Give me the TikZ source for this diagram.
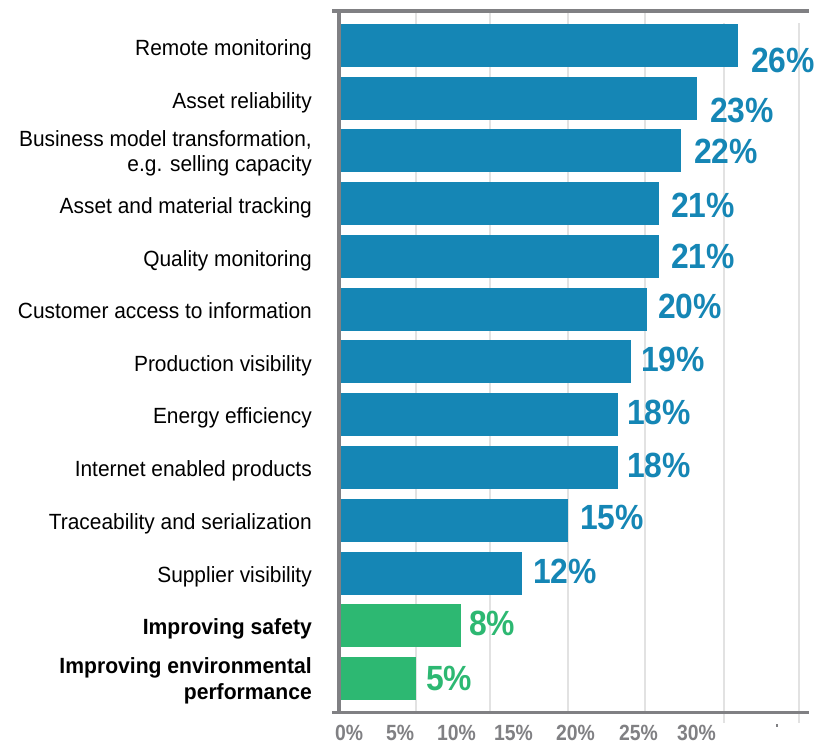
\documentclass[tikz,border=0pt]{standalone}
\usepackage{fontspec}
\newfontfamily\catfont[FakeStretch=0.95]{Liberation Sans}
\newfontfamily\catbold[FakeStretch=0.96]{Liberation Sans Bold}
\newfontfamily\numfont[FakeStretch=0.91]{Liberation Sans Bold}
\newfontfamily\axfont[FakeStretch=0.88]{Liberation Sans Bold}
\definecolor{barblue}{RGB}{21,134,181}
\definecolor{bargreen}{RGB}{45,184,114}
\definecolor{axgray}{RGB}{128,128,131}
\definecolor{gridgray}{RGB}{226,226,226}
\tikzset{
  cat/.style={anchor=base east, inner sep=0pt, font=\catfont\fontsize{22}{25}\selectfont, text=black},
  catb/.style={anchor=base east, inner sep=0pt, font=\catbold\fontsize{22}{25}\selectfont, text=black},
  pct/.style={anchor=base west, inner sep=0pt, font=\numfont\fontsize{35}{38}\selectfont},
  axl/.style={anchor=base west, inner sep=0pt, font=\axfont\fontsize{22}{25}\selectfont, text=axgray},
  grid/.style={draw=gridgray, line width=2pt},
  axis/.style={draw=axgray, line width=3.5pt},
  bluebar/.style={fill=barblue},
  greenbar/.style={fill=bargreen}
}
\begin{document}
\begin{tikzpicture}[x=1pt,y=-1pt]
\useasboundingbox (0,0) rectangle (831,743);
% grid lines
\foreach \gx in {416,490,568,645} \draw[grid] (\gx,13) -- (\gx,711);
\foreach \gx in {724,799} \draw[grid] (\gx,23) -- (\gx,723);
% bars
\foreach \e [count=\i from 0] in {738,697,681,659,659,647,631,618,618,568,522} {
  \fill[bluebar] (339,{24+52.75*\i}) rectangle (\e,{67+52.75*\i});
}
\fill[greenbar] (339,{24+52.75*11}) rectangle (461,{67+52.75*11});
\fill[greenbar] (339,{24+52.75*12}) rectangle (416,{67+52.75*12});
% axes
\draw[axis] (332,11) -- (809,11);
\draw[axis] (332,712.5) -- (809,712.5);
\draw[axis] (339,11) -- (339,714);
\fill[axgray] (776,724) rectangle (778,727);
% category labels
\node[cat] (c1) at (312,56) {Remote monitoring};
\node[cat] (c2) at (312,108.5) {Asset reliability};
\node[cat] (c3a) at (312,146.5) {Business model transformation,};
\node[cat] (c3b) at (312,171.5) {e.g. selling capacity};
\node[cat] (c4) at (312,214) {Asset and material tracking};
\node[cat] (c5) at (312,266.5) {Quality monitoring};
\node[cat] (c6) at (312,318.5) {Customer access to information};
\node[cat] (c7) at (312,371.5) {Production visibility};
\node[cat] (c8) at (312,424) {Energy efficiency};
\node[cat] (c9) at (312,477) {Internet enabled products};
\node[cat] (c10) at (312,529.5) {Traceability and serialization};
\node[cat] (c11) at (312,582.5) {Supplier visibility};
\node[catb] (c12) at (312,634.5) {Improving safety};
\node[catb] (c13a) at (312,673) {Improving environmental};
\node[catb] (c13b) at (312,699) {performance};
% value labels
\node[pct,text=barblue] (v1) at (751,73) {26\%};
\node[pct,text=barblue] (v2) at (710,123) {23\%};
\node[pct,text=barblue] (v3) at (694,163.5) {22\%};
\node[pct,text=barblue] (v4) at (671,217.5) {21\%};
\node[pct,text=barblue] (v5) at (671,268.5) {21\%};
\node[pct,text=barblue] (v6) at (658,318.5) {20\%};
\node[pct,text=barblue] (v7) at (641,371.5) {19\%};
\node[pct,text=barblue] (v8) at (627,424.5) {18\%};
\node[pct,text=barblue] (v9) at (627,477.5) {18\%};
\node[pct,text=barblue] (v10) at (580,529.5) {15\%};
\node[pct,text=barblue] (v11) at (533,583.5) {12\%};
\node[pct,text=bargreen] (v12) at (469,635) {8\%};
\node[pct,text=bargreen] (v13) at (426,690) {5\%};
% axis labels
\node[axl] (a0) at (335,740) {0\%};
\node[axl] (a5) at (386,740) {5\%};
\node[axl] (a10) at (437,740) {10\%};
\node[axl] (a15) at (494,740) {15\%};
\node[axl] (a20) at (556,740) {20\%};
\node[axl] (a25) at (619,740) {25\%};
\node[axl] (a30) at (677,740) {30\%};
\end{tikzpicture}
\end{document}
